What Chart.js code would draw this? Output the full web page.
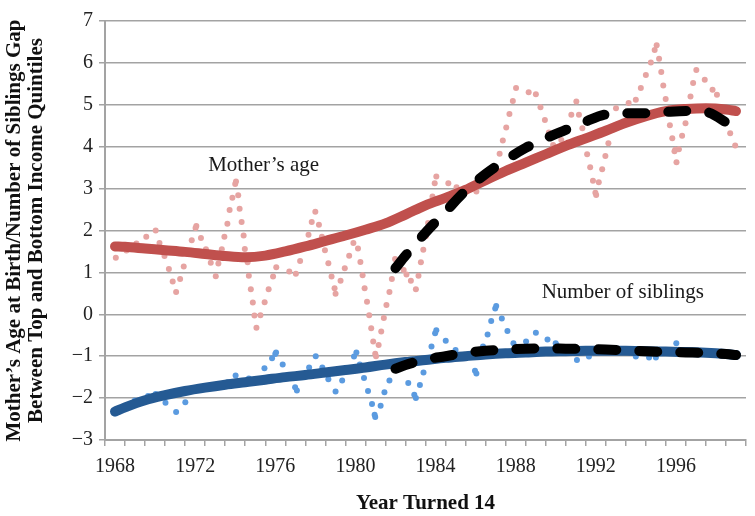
<!DOCTYPE html>
<html>
<head>
<meta charset="utf-8">
<script src="https://cdn.jsdelivr.net/npm/chart.js@4.4.1/dist/chart.umd.min.js"></script>
<style>
  html, body { margin: 0; padding: 0; background: #fff; }
  #wrap { width: 755px; height: 516px; }
</style>
</head>
<body>
<div id="wrap"><canvas id="chart" width="755" height="516"></canvas></div>
<script>
// observed gap in mother's age at birth (year turned 14, gap)
const motherYears = [
    1968.54, 1969.07, 1969.57, 1970.06, 1970.53, 1970.72, 1970.97, 1971.19, 1971.38, 1971.55,
    1971.75, 1971.93, 1972.33, 1972.52, 1972.56, 1972.79, 1973.04, 1973.28, 1973.53, 1973.66,
    1973.83, 1973.96, 1974.11, 1974.22, 1974.36, 1974.5, 1974.54, 1974.65, 1974.72, 1974.82,
    1974.92, 1974.98, 1975.12, 1975.18, 1975.28, 1975.38, 1975.46, 1975.56, 1975.76, 1975.97,
    1976.17, 1976.39, 1976.55, 1977.2, 1977.53, 1977.74, 1978.16, 1978.32, 1978.5, 1978.68,
    1978.83, 1978.98, 1979.15, 1979.31, 1979.46, 1979.51, 1979.76, 1979.97, 1980.19, 1980.4,
    1980.63, 1980.75, 1980.86, 1980.96, 1981.08, 1981.19, 1981.29, 1981.39, 1981.49, 1981.53,
    1981.66, 1981.79, 1981.92, 1982.05, 1982.2, 1982.32, 1982.48, 1982.55, 1982.91, 1983.05,
    1983.27, 1983.52, 1983.65, 1983.77, 1983.89, 1984.02, 1984.13, 1984.35, 1984.46, 1984.54,
    1985.14, 1985.55, 1986.54, 1987.7, 1987.86, 1988.03, 1988.19, 1988.36, 1988.52, 1989.15,
    1989.51, 1989.74, 1989.96, 1990.16, 1990.37, 1990.78, 1991.28, 1991.53, 1991.66, 1991.83,
    1992.07, 1992.22, 1992.36, 1992.48, 1992.52, 1992.65, 1992.82, 1992.98, 1993.13, 1993.51,
    1994.14, 1994.5, 1994.75, 1995.0, 1995.25, 1995.44, 1995.54, 1995.66, 1995.77, 1995.87,
    1995.99, 1996.2, 1996.32, 1996.43, 1996.47, 1996.53, 1996.65, 1996.81, 1996.98, 1997.23,
    1997.36, 1997.52, 1997.94, 1998.33, 1998.55, 1999.21, 1999.46
];
const motherGap = [
    1.35, 1.52, 1.69, 1.85, 2.0, 1.7, 1.39, 1.08, 0.78, 0.53,
    0.84, 1.14, 1.77, 2.06, 2.11, 1.82, 1.55, 1.23, 0.91, 1.21,
    1.55, 1.85, 2.16, 2.49, 2.78, 3.11, 3.17, 2.84, 2.52, 2.2,
    1.88, 1.56, 1.24, 0.92, 0.6, 0.28, -0.03, -0.32, -0.02, 0.29,
    0.6, 0.9, 1.12, 1.02, 0.97, 1.27, 1.9, 2.2, 2.45, 2.14,
    1.85, 1.53, 1.22, 0.9, 0.62, 0.49, 0.8, 1.1, 1.4, 1.7,
    1.57, 1.25, 0.93, 0.62, 0.3, -0.02, -0.33, -0.65, -0.94, -1.0,
    -0.73, -0.41, -0.09, 0.22, 0.53, 0.84, 1.32, 1.28, 1.06, 0.95,
    0.8, 0.6, 0.92, 1.24, 1.54, 1.86, 2.18, 2.81, 3.13, 3.29,
    3.13, 3.03, 2.93, 3.83, 4.15, 4.46, 4.78, 5.09, 5.4, 5.3,
    5.25, 4.94, 4.64, 4.34, 4.04, 4.16, 4.76, 5.08, 4.76, 4.44,
    3.82, 3.51, 3.19, 2.9, 2.85, 3.15, 3.46, 3.78, 4.08, 4.92,
    5.04, 5.12, 5.4, 5.71, 6.01, 6.31, 6.42, 6.1, 5.78, 5.46,
    5.14, 4.51, 4.2, 3.89, 3.93, 3.63, 3.94, 4.26, 4.56, 5.2,
    5.52, 5.83, 5.6, 5.36, 5.24, 4.32, 4.03
];

// observed gap in number of siblings
const siblingsYears = [
    1968.54, 1969.49, 1969.7, 1970.15, 1970.53, 1971.02, 1971.55, 1972.01, 1974.11, 1974.52,
    1975.18, 1975.54, 1975.96, 1976.34, 1976.5, 1976.54, 1976.87, 1977.2, 1977.49, 1977.58,
    1978.19, 1978.52, 1978.85, 1979.15, 1979.51, 1979.84, 1980.1, 1980.43, 1980.55, 1980.72,
    1980.93, 1981.13, 1981.33, 1981.46, 1981.49, 1981.76, 1981.95, 1982.2, 1982.81, 1983.14,
    1983.44, 1983.52, 1983.72, 1983.9, 1984.3, 1984.48, 1984.54, 1985.01, 1985.5, 1986.47,
    1986.54, 1986.87, 1987.1, 1987.28, 1987.48, 1987.53, 1987.81, 1988.09, 1988.39, 1989.02,
    1989.51, 1990.09, 1990.5, 1990.54, 1991.56, 1992.16, 1994.5, 1995.16, 1995.5, 1996.52
];
const siblingsGap = [
    -2.37, -2.06, -2.05, -1.95, -1.9, -2.11, -2.33, -2.1, -1.63, -1.46,
    -1.53, -1.55, -1.29, -1.05, -0.95, -0.91, -1.2, -1.47, -1.74, -1.82,
    -1.27, -1.0, -1.27, -1.55, -1.84, -1.58, -1.28, -1.01, -0.91, -1.2,
    -1.52, -1.83, -2.14, -2.4, -2.45, -2.18, -1.86, -1.58, -1.28, -1.64,
    -1.92, -2.0, -1.69, -1.39, -0.77, -0.45, -0.38, -0.63, -0.85, -1.35,
    -1.41, -0.77, -0.48, -0.16, 0.14, 0.2, -0.1, -0.4, -0.69, -0.65,
    -0.44, -0.6, -0.69, -0.73, -1.09, -1.01, -1.01, -1.03, -1.03, -0.69
];

// smoothed trends
const trendYears = [1968.5, 1969, 1970, 1971, 1972, 1973, 1974, 1975, 1976, 1977, 1978, 1979, 1980,
    1981, 1982, 1983, 1984, 1985, 1986, 1987, 1988, 1989, 1990, 1991, 1992, 1993, 1994, 1995, 1996,
    1997, 1998, 1999, 1999.5];
const motherTrend = [1.62, 1.61, 1.57, 1.53, 1.49, 1.44, 1.39, 1.36, 1.4, 1.5, 1.62, 1.75, 1.88,
    2.02, 2.17, 2.38, 2.6, 2.78, 2.97, 3.2, 3.42, 3.62, 3.82, 4.02, 4.2, 4.38, 4.57, 4.73, 4.85,
    4.9, 4.92, 4.89, 4.85];
const siblingsTrend = [-2.32, -2.22, -2.05, -1.93, -1.83, -1.75, -1.68, -1.62, -1.56, -1.5, -1.45, -1.39, -1.33,
    -1.27, -1.2, -1.14, -1.09, -1.04, -1.0, -0.96, -0.93, -0.91, -0.89, -0.88, -0.87, -0.87, -0.87, -0.88, -0.89,
    -0.9, -0.92, -0.95, -0.97];

// predicted (dashed) from 1982 on
const predYears = [1982.5, 1983, 1984, 1985, 1986, 1987, 1988, 1989, 1990, 1991, 1992, 1993, 1994,
    1995, 1996, 1997, 1998, 1999, 1999.5];
const motherPred = [1.1, 1.4, 1.95, 2.45, 2.95, 3.35, 3.68, 3.97, 4.2, 4.4, 4.6, 4.77, 4.8,
    4.8, 4.83, 4.85, 4.83, 4.58, 4.4];
const siblingsPred = [-1.3, -1.21, -1.08, -1.0, -0.92, -0.87, -0.84, -0.82, -0.81, -0.82, -0.83, -0.84, -0.86,
    -0.88, -0.9, -0.91, -0.92, -0.95, -0.97];

const xTickLabels = ['1968', '1972', '1976', '1980', '1984', '1988', '1992', '1996'];

function paired(xs, ys) {
    return xs.map((x, i) => ({x: x, y: ys[i]}));
}

const serif = '"Liberation Serif", "Times New Roman", serif';
const gridGrey = '#a3a3a3';

// text labels next to the two series
const seriesLabels = {
    id: 'seriesLabels',
    afterDatasetsDraw(chart) {
        const ctx = chart.ctx;
        const x = chart.scales.x, y = chart.scales.y;
        ctx.save();
        ctx.font = '21px ' + serif;
        ctx.fillStyle = '#1a1a1a';
        ctx.textAlign = 'left';
        ctx.textBaseline = 'middle';
        ctx.fillText('Mother\u2019s age', x.getPixelForValue(1973.15), y.getPixelForValue(3.54));
        ctx.fillText('Number of siblings', x.getPixelForValue(1989.8), y.getPixelForValue(0.51));
        ctx.restore();
    }
};

const dashed = {
    showLine: true,
    pointRadius: 0,
    borderColor: '#000',
    borderWidth: 10,
    borderDash: [18, 23],
    borderCapStyle: 'round',
    borderJoinStyle: 'round',
    cubicInterpolationMode: 'monotone',
    order: 0
};
const thick = {
    showLine: true,
    pointRadius: 0,
    borderWidth: 10,
    borderCapStyle: 'round',
    borderJoinStyle: 'round',
    cubicInterpolationMode: 'monotone',
    order: 1
};
const dots = {
    showLine: false,
    pointRadius: 3,
    pointBorderWidth: 0,
    order: 2
};

chart = new Chart(document.getElementById('chart').getContext('2d'), {
    type: 'line',
    data: {
        datasets: [
            Object.assign({label: 'Mother predicted', data: paired(predYears, motherPred)}, dashed),
            Object.assign({label: 'Siblings predicted', data: paired(predYears, siblingsPred)}, dashed),
            Object.assign({label: 'Mother trend', data: paired(trendYears, motherTrend), borderColor: '#c0504d'}, thick),
            Object.assign({label: 'Siblings trend', data: paired(trendYears, siblingsTrend), borderColor: '#255a93'}, thick),
            Object.assign({label: 'Mother\u2019s age', data: paired(motherYears, motherGap), backgroundColor: '#e6a4a2', borderColor: '#e6a4a2'}, dots),
            Object.assign({label: 'Number of siblings', data: paired(siblingsYears, siblingsGap), backgroundColor: '#5b9be0', borderColor: '#5b9be0'}, dots)
        ]
    },
    options: {
        responsive: false,
        animation: false,
        devicePixelRatio: 1,
        layout: {padding: {top: 21, right: 3, left: 0, bottom: 0}},
        plugins: {legend: {display: false}, tooltip: {enabled: false}},
        scales: {
            x: {
                type: 'linear',
                min: 1968,
                max: 2000,
                afterFit: (scale) => { scale.height = 76; },
                grid: {drawOnChartArea: false, drawTicks: true, tickLength: 6, color: gridGrey, lineWidth: 1.5},
                border: {display: true, color: gridGrey, width: 2},
                ticks: {
                    stepSize: 1,
                    autoSkip: false,
                    maxRotation: 0,
                    labelOffset: 10,
                    padding: 9,
                    color: '#222',
                    font: {family: serif, size: 20},
                    callback: (v) => xTickLabels.includes(String(v)) ? String(v) : ''
                },
                title: {
                    display: true,
                    text: 'Year Turned 14',
                    color: '#111',
                    font: {family: serif, size: 21, weight: 'bold'},
                    padding: {top: 0, bottom: 0}
                }
            },
            y: {
                min: -3,
                max: 7,
                afterFit: (scale) => { scale.width = 105; },
                grid: {color: gridGrey, lineWidth: 1.5, tickLength: 6},
                border: {display: true, color: gridGrey, width: 2},
                ticks: {
                    stepSize: 1,
                    padding: 6,
                    color: '#222',
                    font: {family: serif, size: 20},
                    callback: (v) => v < 0 ? '\u2212' + Math.abs(v) : String(v)
                },
                title: {
                    display: true,
                    text: ['Mother\u2019s Age at Birth/Number of Siblings Gap', 'Between Top and Bottom Income Quintiles'],
                    color: '#111',
                    font: {family: serif, size: 21, weight: 'bold', lineHeight: 1.05},
                    padding: {top: 4, bottom: 0}
                }
            }
        }
    },
    plugins: [seriesLabels]
});
</script>
</body>
</html>
